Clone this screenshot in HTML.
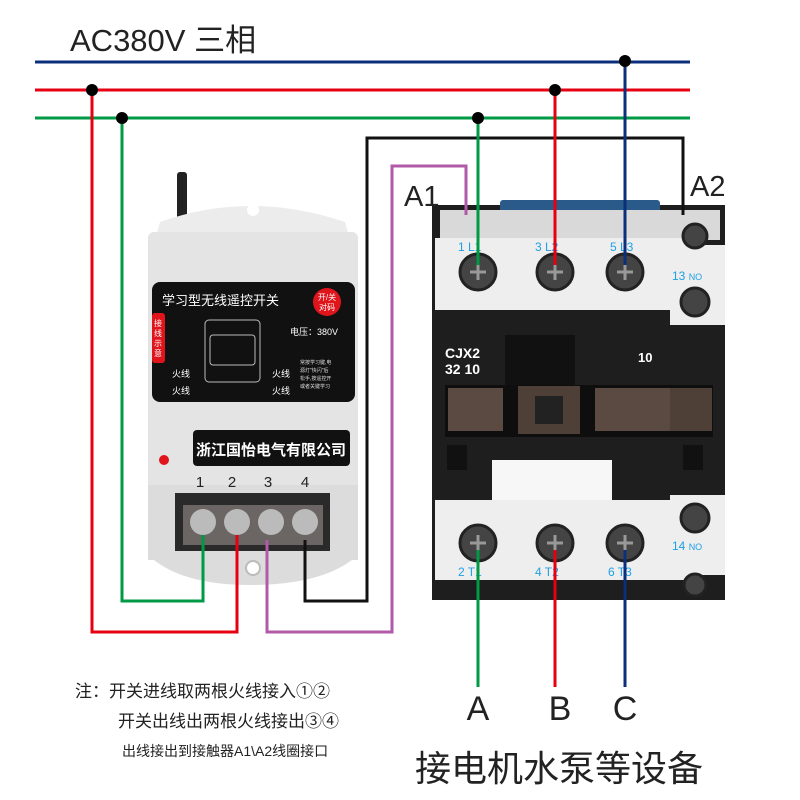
<!DOCTYPE html>
<html><head><meta charset="utf-8"><style>
html,body{margin:0;padding:0;background:#fff;}
svg{display:block;}
text{font-family:"Liberation Sans","Noto Sans CJK SC",sans-serif;}
</style></head><body>
<svg width="800" height="800" viewBox="0 0 800 800" xmlns="http://www.w3.org/2000/svg">
<rect width="800" height="800" fill="#fff"/>
<text x="70" y="51" font-size="31" fill="#222">AC380V 三相</text>

<!-- Remote switch -->
<rect x="177" y="172" width="10" height="50" rx="3" fill="#222"/>
<path d="M160 222 Q250 190 345 222 L350 240 L155 240 Z" fill="#ececec"/>
<circle cx="253" cy="210" r="6" fill="#fff"/>
<rect x="148" y="232" width="210" height="260" rx="6" fill="#e4e4e4"/>
<rect x="148" y="485" width="210" height="75" fill="#dcdcdc"/>
<path d="M148 555 Q180 585 250 585 Q325 585 358 555 Z" fill="#dcdcdc"/>
<rect x="152" y="282" width="203" height="120" rx="8" fill="#111"/>
<text x="162" y="305" font-size="13" fill="#fff">学习型无线遥控开关</text>
<circle cx="327" cy="302" r="14" fill="#e0151c"/>
<text x="327" y="300" font-size="8" fill="#fff" text-anchor="middle">开/关</text>
<text x="327" y="310" font-size="8" fill="#fff" text-anchor="middle">对码</text>
<rect x="152" y="313" width="13" height="50" rx="3" fill="#e0151c"/>
<text x="158" y="326" font-size="8" fill="#fff" text-anchor="middle">接</text>
<text x="158" y="336" font-size="8" fill="#fff" text-anchor="middle">线</text>
<text x="158" y="346" font-size="8" fill="#fff" text-anchor="middle">示</text>
<text x="158" y="356" font-size="8" fill="#fff" text-anchor="middle">意</text>
<rect x="205" y="320" width="55" height="62" rx="4" fill="none" stroke="#bbb" stroke-width="1"/>
<rect x="210" y="335" width="45" height="30" rx="3" fill="none" stroke="#bbb"/>
<text x="290" y="335" font-size="9" fill="#fff">电压：380V</text>
<text x="172" y="377" font-size="9" fill="#fff">火线</text>
<text x="172" y="394" font-size="9" fill="#fff">火线</text>
<text x="272" y="377" font-size="9" fill="#fff">火线</text>
<text x="272" y="394" font-size="9" fill="#fff">火线</text>
<text x="300" y="364" font-size="5" fill="#ddd">常按学习键,电</text>
<text x="300" y="372" font-size="5" fill="#ddd">源灯"快闪"后</text>
<text x="300" y="380" font-size="5" fill="#ddd">松手,按遥控开</text>
<text x="300" y="388" font-size="5" fill="#ddd">或者关键学习</text>
<rect x="193" y="430" width="157" height="36" rx="4" fill="#111"/>
<text x="271" y="455" font-size="15" font-weight="bold" fill="#fff" text-anchor="middle">浙江国怡电气有限公司</text>
<circle cx="164" cy="460" r="5" fill="#e0151c"/>
<text x="200" y="487" font-size="15" fill="#222" text-anchor="middle">1</text>
<text x="232" y="487" font-size="15" fill="#222" text-anchor="middle">2</text>
<text x="268" y="487" font-size="15" fill="#222" text-anchor="middle">3</text>
<text x="305" y="487" font-size="15" fill="#222" text-anchor="middle">4</text>
<rect x="175" y="493" width="155" height="58" fill="#2a2a2a"/>
<rect x="183" y="505" width="140" height="40" fill="#6b6563"/>
<circle cx="203" cy="522" r="13" fill="#bbb"/><circle cx="237" cy="522" r="13" fill="#bbb"/>
<circle cx="271" cy="522" r="13" fill="#bbb"/><circle cx="305" cy="522" r="13" fill="#bbb"/>
<circle cx="253" cy="568" r="7" fill="#fff" stroke="#bbb" stroke-width="2"/>

<!-- Contactor -->
<rect x="432" y="205" width="293" height="395" fill="#1e1e1e"/>
<rect x="500" y="200" width="160" height="18" rx="3" fill="#2a5a8a"/>
<rect x="440" y="210" width="280" height="30" fill="#d9d9d9"/>
<path d="M435 238 H690 V245 H725 V325 H670 V310 H435 Z" fill="#eeeeee"/>
<path d="M435 500 H670 V495 H725 V575 H690 V580 H435 Z" fill="#eeeeee"/>
<rect x="505" y="335" width="70" height="50" fill="#111"/>
<text x="445" y="358" font-size="14" font-weight="bold" fill="#fff">CJX2</text>
<text x="445" y="374" font-size="14" font-weight="bold" fill="#fff">32 10</text>
<text x="638" y="362" font-size="13" font-weight="bold" fill="#fff">10</text>
<rect x="445" y="385" width="268" height="52" fill="#0e0e0e"/>
<rect x="448" y="388" width="55" height="43" fill="#5a4a42"/>
<rect x="518" y="386" width="62" height="48" fill="#4e3f37"/>
<rect x="535" y="396" width="28" height="28" fill="#222"/>
<rect x="595" y="388" width="75" height="43" fill="#5a4a42"/>
<rect x="670" y="388" width="42" height="43" fill="#4e3f37"/>
<rect x="492" y="460" width="120" height="40" fill="#f7f7f7"/>
<rect x="447" y="445" width="20" height="25" fill="#111"/>
<rect x="683" y="445" width="20" height="25" fill="#111"/>
<g fill="#444" stroke="#222" stroke-width="3">
<circle cx="478" cy="272" r="18"/><circle cx="555" cy="272" r="18"/><circle cx="625" cy="272" r="18"/>
<circle cx="695" cy="302" r="14"/><circle cx="695" cy="236" r="12"/>
<circle cx="478" cy="543" r="18"/><circle cx="555" cy="543" r="18"/><circle cx="625" cy="543" r="18"/>
<circle cx="695" cy="518" r="14"/><circle cx="695" cy="585" r="11"/>
</g>
<g stroke="#999" stroke-width="3">
<path d="M470 272 H486 M478 264 V280 M547 272 H563 M555 264 V280 M617 272 H633 M625 264 V280"/>
<path d="M470 543 H486 M478 535 V551 M547 543 H563 M555 535 V551 M617 543 H633 M625 535 V551"/>
</g>
<g fill="#1ea0e6" font-size="12">
<text x="458" y="251">1 L1</text><text x="535" y="251">3 L2</text><text x="610" y="251">5 L3</text>
<text x="672" y="280">13 <tspan font-size="9">NO</tspan></text>
<text x="458" y="576">2 T1</text><text x="535" y="576">4 T2</text><text x="608" y="576">6 T3</text>
<text x="672" y="550">14 <tspan font-size="9">NO</tspan></text>
</g>
<text x="404" y="206" font-size="29" fill="#222">A1</text>
<text x="690" y="196" font-size="29" fill="#222">A2</text>

<!-- wires -->
<g fill="none" stroke-width="3">
<path d="M35 62 H690" stroke="#0b2f7a"/>
<path d="M35 90 H690" stroke="#e60012"/>
<path d="M35 118 H690" stroke="#009944"/>
<path d="M122 118 V601 H203 V535" stroke="#009944"/>
<path d="M92 90 V632 H237 V535" stroke="#e60012"/>
<path d="M267 540 V632 H392 V166 H466 V215" stroke="#b05aa8"/>
<path d="M305 540 V601 H367 V138 H683 V215" stroke="#111"/>
<path d="M478 118 V265" stroke="#009944"/>
<path d="M555 90 V265" stroke="#e60012"/>
<path d="M625 62 V265" stroke="#0b2f7a"/>
<path d="M478 550 V687" stroke="#009944"/>
<path d="M555 550 V687" stroke="#e60012"/>
<path d="M625 550 V687" stroke="#0b2f7a"/>
</g>
<g fill="#000">
<circle cx="92" cy="90" r="6"/><circle cx="122" cy="118" r="6"/>
<circle cx="478" cy="118" r="6"/><circle cx="555" cy="90" r="6"/><circle cx="625" cy="61" r="6"/>
</g>

<text x="478" y="720" font-size="34" fill="#222" text-anchor="middle">A</text>
<text x="560" y="720" font-size="34" fill="#222" text-anchor="middle">B</text>
<text x="625" y="720" font-size="34" fill="#222" text-anchor="middle">C</text>
<text x="415" y="781" font-size="36" fill="#222">接电机水泵等设备</text>
<text x="75" y="697" font-size="17" fill="#222">注：开关进线取两根火线接入①②</text>
<text x="118" y="727" font-size="17" fill="#222">开关出线出两根火线接出③④</text>
<text x="122" y="756" font-size="14" fill="#222">出线接出到接触器A1\A2线圈接口</text>
</svg>
</body></html>
